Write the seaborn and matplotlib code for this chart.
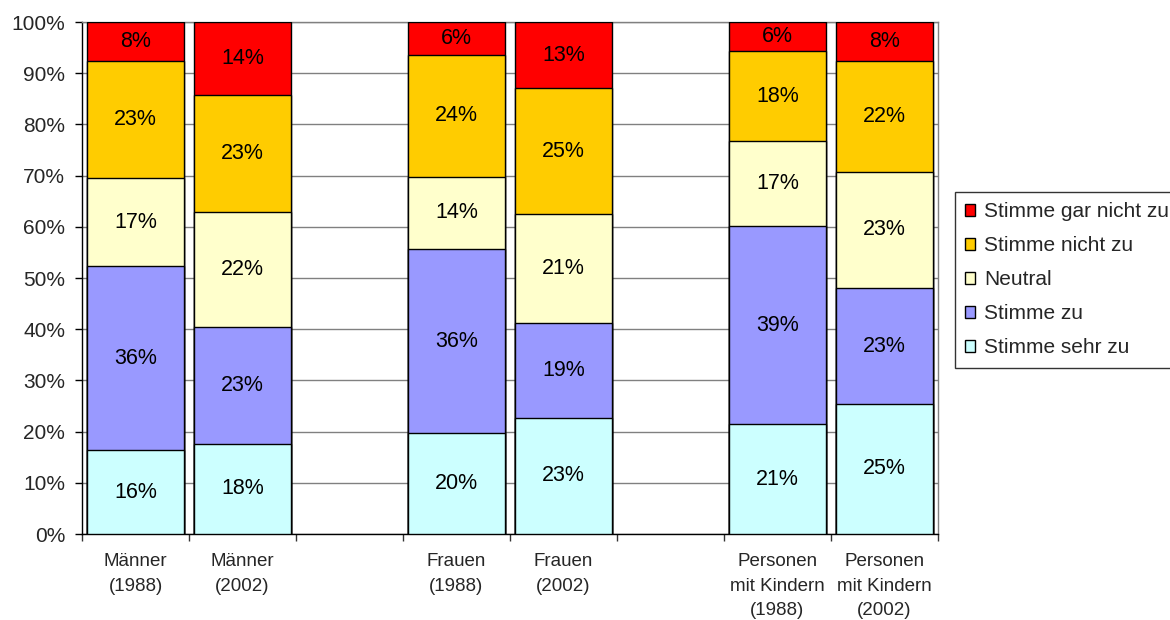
import matplotlib
matplotlib.use("Agg")
import matplotlib.pyplot as plt
import seaborn as sns
import pandas as pd
import numpy as np
from matplotlib.patches import Patch

# ---------------- data ----------------
categories = ["Männer\n(1988)", "Männer\n(2002)", "Frauen\n(1988)", "Frauen\n(2002)",
              "Personen\nmit Kindern\n(1988)", "Personen\nmit Kindern\n(2002)"]
series_names = ["Stimme sehr zu", "Stimme zu", "Neutral", "Stimme nicht zu", "Stimme gar nicht zu"]
stimme_sehr_zu = [16.4, 17.6, 19.7, 22.7, 21.4, 25.4]
stimme_zu = [35.9, 22.9, 35.9, 18.6, 38.7, 22.6]
neutral = [17.2, 22.4, 14.2, 21.2, 16.6, 22.8]
stimme_nicht_zu = [22.9, 22.9, 23.8, 24.6, 17.6, 21.6]
stimme_gar_nicht_zu = [7.6, 14.2, 6.4, 12.9, 5.7, 7.6]
series_colors = ["#CCFFFF", "#9999FF", "#FFFFCC", "#FFCC00", "#FF0000"]
y_ticks = [0, 10, 20, 30, 40, 50, 60, 70, 80, 90, 100]

# slot order with empty gaps between groups
order = [categories[0], categories[1], "gap1", categories[2], categories[3], "gap2",
         categories[4], categories[5]]

values = [stimme_sehr_zu, stimme_zu, neutral, stimme_nicht_zu, stimme_gar_nicht_zu]

sns.set_style("white")
plt.rcParams["font.family"] = ["Liberation Sans", "DejaVu Sans"]

fig = plt.figure(figsize=(11.7, 6.2), dpi=100)
ax = fig.add_axes([82 / 1170, 1 - 534 / 620, (938 - 82) / 1170, (534 - 22) / 620])

rows = []
for s, vals in zip(series_names, values):
    for c, v in zip(categories, vals):
        rows.append({"cat": c, "series": s, "value": v})
df = pd.DataFrame(rows)
df["bottom"] = df.groupby("cat")["value"].cumsum() - df["value"]
df["top"] = df["bottom"] + df["value"]

# overlay cumulative bars from the top segment downward
for s, col in reversed(list(zip(series_names, series_colors))):
    sub = df[df["series"] == s]
    sns.barplot(data=sub, x="cat", y="top", order=order, color=col, saturation=1,
                width=0.91, edgecolor="black", linewidth=1.0, errorbar=None, ax=ax,
                zorder=3)

# value labels
for _, r in df.iterrows():
    ax.text(order.index(r["cat"]), r["bottom"] + r["value"] / 2, f"{r['value']:.0f}%",
            ha="center", va="center", fontsize=15.5, color="black", zorder=5)

ax.set_xlim(-0.5, len(order) - 0.5)
ax.set_ylim(0, 100)
ax.set_xlabel("")
ax.set_ylabel("")

ax.set_yticks(y_ticks, labels=[f"{t}%" for t in y_ticks])
ax.tick_params(axis="y", which="major", length=5, width=1, color="black",
               pad=7, labelsize=15, left=True)

ax.set_xticks(np.arange(-0.5, len(order), 1), labels=[""] * (len(order) + 1))
ax.set_xticks([order.index(c) for c in categories], labels=categories, minor=True)
ax.tick_params(axis="x", which="major", length=5, width=1, color="#333333", bottom=True)
ax.tick_params(axis="x", which="minor", length=0, pad=14, labelsize=13.5)
for lbl in ax.get_xticklabels(minor=True):
    lbl.set_linespacing(1.55)

ax.set_axisbelow(True)
ax.yaxis.grid(True, color="#808080", linewidth=1.0)
ax.xaxis.grid(False)

for side in ["top", "right"]:
    ax.spines[side].set_color("#808080")
    ax.spines[side].set_linewidth(1.0)
for side in ["left", "bottom"]:
    ax.spines[side].set_color("black")
    ax.spines[side].set_linewidth(1.0)

handles = [Patch(facecolor=c, edgecolor="black", linewidth=1.0, label=s)
           for s, c in reversed(list(zip(series_names, series_colors)))]
leg = fig.legend(handles=handles, loc="upper left",
                 bbox_to_anchor=(955 / 1170, 1 - 192 / 620),
                 frameon=True, fancybox=False, edgecolor="black", fontsize=15,
                 handlelength=0.45, handleheight=0.5, handletextpad=0.45,
                 labelspacing=0.72, borderpad=0.5, borderaxespad=0)
leg.get_frame().set_linewidth(1.0)

fig.savefig("out.png", dpi=100)
